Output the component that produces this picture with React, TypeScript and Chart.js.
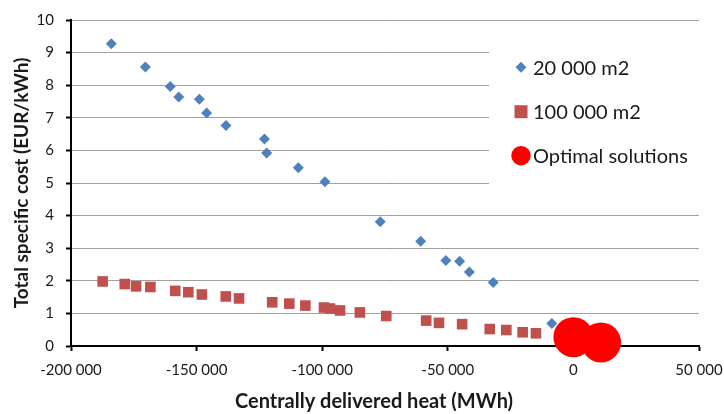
import React, { useEffect, useRef } from "react";
import { Chart, registerables } from "chart.js";

Chart.register(...registerables);

// ---- Data ----
const small_x = [-183950, -170400, -160500, -157100, -148900, -146000, -138300, -123000, -122100, -109500, -98900, -76900, -60800, -50800, -45300, -41400, -31900, -8600];
const small_y = [9.27, 8.56, 7.96, 7.64, 7.57, 7.15, 6.76, 6.35, 5.92, 5.47, 5.04, 3.81, 3.21, 2.62, 2.6, 2.27, 1.95, 0.69];

const large_x = [-187400, -178600, -174100, -168400, -158500, -153300, -147900, -138400, -133100, -119900, -113100, -106700, -99300, -96900, -92900, -85000, -74500, -58600, -53500, -44300, -33300, -26700, -20200, -14900];
const large_y = [1.98, 1.9, 1.83, 1.81, 1.69, 1.65, 1.58, 1.52, 1.46, 1.34, 1.3, 1.24, 1.18, 1.15, 1.09, 1.03, 0.92, 0.78, 0.71, 0.67, 0.52, 0.49, 0.42, 0.39];

const optimal_x = [0, 11000];
const optimal_y = [0.27, 0.11];

const seriesNames = ["20 000 m2", "100 000 m2", "Optimal solutions"];
const xTitle = "Centrally delivered heat (MWh)";
const yTitle = "Total specific cost (EUR/kWh)";

const FONT = 'Lato, "Open Sans", sans-serif';
const BLUE = "#4F81BD";
const RED = "#C0504D";
const OPT = "#FF0000";
const TXT = "#1a1a1a";

function toPoints(xs: number[], ys: number[]) {
  return xs.map((x, i) => ({ x, y: ys[i] }));
}

function fmt(v: number) {
  const n = Math.round(Number(v));
  const s = Math.abs(n).toString().replace(/\B(?=(\d{3})+(?!\d))/g, " ");
  return (n < 0 ? "-" : "") + s;
}

const overlayPlugin = {
  id: "overlay",
  beforeDatasetsDraw(chart: any) {
    const ctx = chart.ctx;
    const ca = chart.chartArea;
    ctx.save();
    // legend box (covers gridlines)
    const bx = ca.left + 418;
    ctx.fillStyle = "#ffffff";
    ctx.fillRect(bx, ca.top + 20, ca.right - bx + 2, 150);
    const mx = ca.left + 450;
    const tx = ca.left + 462;
    const ys = [ca.top + 47.3, ca.top + 91.7, ca.top + 135.7];
    // diamond
    ctx.fillStyle = BLUE;
    ctx.beginPath();
    ctx.moveTo(mx - 5.5, ys[0]);
    ctx.lineTo(mx, ys[0] - 5.5);
    ctx.lineTo(mx + 5.5, ys[0]);
    ctx.lineTo(mx, ys[0] + 5.5);
    ctx.closePath();
    ctx.fill();
    // square
    ctx.fillStyle = RED;
    ctx.fillRect(mx - 6.5, ys[1] - 6.5, 13, 13);
    // circle
    ctx.fillStyle = OPT;
    ctx.beginPath();
    ctx.arc(mx, ys[2], 9.75, 0, Math.PI * 2);
    ctx.fill();
    ctx.fillStyle = TXT;
    ctx.font = `20px ${FONT}`;
    ctx.textAlign = "left";
    ctx.textBaseline = "middle";
    seriesNames.forEach((n, i) => ctx.fillText(n, tx, ys[i] + 1));
    ctx.restore();
  },
  afterDraw(chart: any) {
    const ctx = chart.ctx;
    ctx.save();
    ctx.fillStyle = TXT;
    ctx.textAlign = "center";
    ctx.textBaseline = "middle";
    ctx.font = `bold 20px ${FONT}`;
    ctx.fillText(xTitle, 374, 402);
    ctx.font = `bold 19px ${FONT}`;
    ctx.translate(22, 183);
    ctx.rotate(-Math.PI / 2);
    ctx.fillText(yTitle, 0, 0);
    ctx.restore();
  },
};

export default function App() {
  const ref = useRef<HTMLCanvasElement | null>(null);

  useEffect(() => {
    document.body.style.margin = "0";
    if (!ref.current) return;
    const chart = new Chart(ref.current, {
      type: "scatter",
      data: {
        datasets: [
          {
            label: seriesNames[0],
            data: toPoints(small_x, small_y),
            pointStyle: "rectRot",
            pointRadius: 5.5,
            pointHoverRadius: 5.5,
            backgroundColor: BLUE,
            borderWidth: 0,
            order: 2,
          },
          {
            label: seriesNames[1],
            data: toPoints(large_x, large_y),
            pointStyle: "rect",
            pointRadius: 7.5,
            pointHoverRadius: 7.5,
            backgroundColor: RED,
            borderWidth: 0,
            order: 1,
          },
          {
            label: seriesNames[2],
            data: toPoints(optimal_x, optimal_y),
            pointStyle: "circle",
            pointRadius: 20,
            pointHoverRadius: 20,
            backgroundColor: OPT,
            borderWidth: 0,
            order: 0,
            clip: false,
          },
        ],
      },
      options: {
        animation: false,
        responsive: true,
        maintainAspectRatio: false,
        events: [],
        layout: { padding: { top: 17, right: 25, left: 0, bottom: 0 } },
        plugins: {
          legend: { display: false },
          tooltip: { enabled: false },
        },
        scales: {
          x: {
            type: "linear",
            min: -200000,
            max: 50000,
            afterFit: (s: any) => {
              s.height = 68;
              s.paddingLeft = 0;
              s.paddingRight = 0;
            },
            ticks: {
              stepSize: 50000,
              padding: 10,
              color: TXT,
              font: { family: FONT, size: 15 },
              callback: (v: any) => fmt(v),
              maxRotation: 0,
            },
            grid: {
              drawOnChartArea: false,
              drawTicks: true,
              tickLength: 5,
              tickColor: "#000",
              tickWidth: 2,
            },
            border: { display: true, color: "#000", width: 2 },
          },
          y: {
            type: "linear",
            min: 0,
            max: 10,
            afterFit: (s: any) => {
              s.width = 71;
              s.paddingTop = 0;
              s.paddingBottom = 0;
            },
            ticks: {
              stepSize: 1,
              padding: 12,
              color: TXT,
              font: { family: FONT, size: 15 },
            },
            grid: {
              color: "#a0a0a0",
              lineWidth: 1,
              drawTicks: true,
              tickLength: 5,
              tickColor: "#000",
              tickWidth: 2,
            },
            border: { display: true, color: "#000", width: 2 },
          },
        },
      },
      plugins: [overlayPlugin],
    });
    return () => chart.destroy();
  }, []);

  return (
    <div style={{ width: 724, height: 414, position: "relative" }}>
      <canvas ref={ref} />
    </div>
  );
}
